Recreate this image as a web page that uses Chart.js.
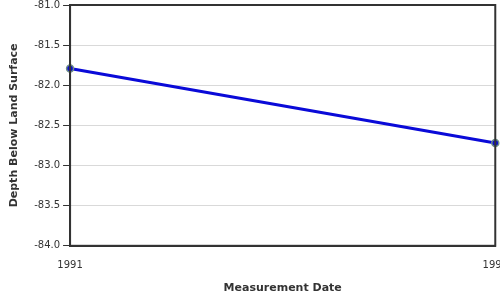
<!DOCTYPE html>
<html lang="en">
<head>
  <meta charset="UTF-8" />
  <title>Depth Below Land Surface</title>
  <script src="https://cdn.jsdelivr.net/npm/chart.js"></script>
  <style>
    html, body { margin: 0; padding: 0; background: #fff; overflow: hidden; width: 500px; height: 300px; }
    #chart { position: absolute; left: 0; top: -4px; }
  </style>
</head>
<body>
  <canvas id="chart" width="512" height="304"></canvas>
  <script>
    const dates = ['1991', '1991'];
    const depths = [-81.79, -82.72];

    // frame around the plot area
    const frame = {
      id: 'frame',
      afterDraw(c) {
        const a = c.chartArea, ctx = c.ctx;
        ctx.save();
        ctx.strokeStyle = '#333';
        ctx.lineWidth = 2;
        ctx.strokeRect(a.left, a.top, a.right - a.left, a.bottom - a.top);
        ctx.restore();
      }
    };

    new Chart(document.getElementById('chart'), {
      type: 'line',
      data: {
        labels: dates,
        datasets: [{
          data: depths,
          borderColor: '#0a0ad8',
          borderWidth: 3,
          pointRadius: 3.5,
          pointBackgroundColor: '#1010c8',
          pointBorderColor: '#6f9088',
          pointBorderWidth: 1.5,
          tension: 0
        }]
      },
      options: {
        responsive: false,
        animation: false,
        plugins: { legend: { display: false }, tooltip: { enabled: false } },
        layout: { padding: { top: 0, left: 4, bottom: 5 } },
        scales: {
          x: {
            offset: false,
            grid: { display: false, drawTicks: true, tickLength: 10, tickColor: '#333' },
            border: { display: true, color: '#333', width: 2 },
            ticks: { color: '#333', font: { family: 'DejaVu Sans', size: 10 }, maxRotation: 0, padding: 4 },
            title: { display: true, text: 'Measurement Date', color: '#333', font: { family: 'DejaVu Sans', size: 11, weight: 'bold' }, padding: { top: 6, bottom: 0 } }
          },
          y: {
            min: -84, max: -81,
            ticks: { stepSize: 0.5, color: '#333', font: { family: 'DejaVu Sans', size: 10 }, padding: 3,
                     callback: v => v.toFixed(1) },
            grid: { color: '#d9d9d9', tickColor: '#333', tickLength: 7 },
            border: { display: true, color: '#333', width: 2 },
            title: { display: true, text: 'Depth Below Land Surface', color: '#333', font: { family: 'DejaVu Sans', size: 11, weight: 'bold' }, padding: { bottom: 10 } }
          }
        }
      },
      plugins: [frame]
    });
  </script>
</body>
</html>
